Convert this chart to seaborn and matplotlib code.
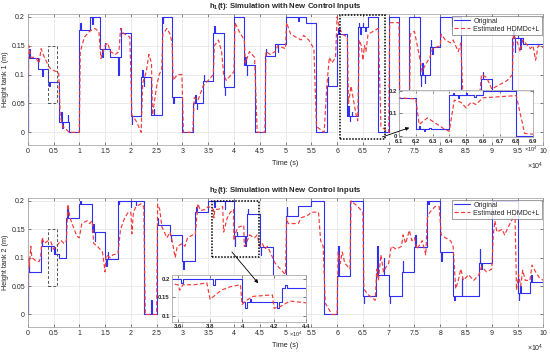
import numpy as np
import pandas as pd
import seaborn as sns
import matplotlib.pyplot as plt
from matplotlib.patches import Rectangle
from matplotlib.ticker import MultipleLocator, FuncFormatter

# time axis is in units of 1e4 s
T_END = 10.0

# tank 1: set-point levels (changes every 0.2e4 s)
h1_step_t = [0.0, 0.2, 0.4, 0.6, 0.8, 1.0, 1.2, 1.4, 1.6, 1.8,
             2.0, 2.2, 2.4, 2.6, 2.8, 3.0, 3.2, 3.4, 3.6, 3.8,
             4.0, 4.2, 4.4, 4.6, 4.8, 5.0, 5.2, 5.4, 5.6, 5.8,
             6.0, 6.2, 6.4, 6.6, 6.8, 7.0, 7.2, 7.4, 7.6, 7.8,
             8.0, 8.2, 8.4, 8.6, 8.8, 9.0, 9.2, 9.4, 9.6, 9.8]
h1_step_v = [0.128, 0.110, 0.087, 0.018, 0.000, 0.177, 0.200, 0.145, 0.131, 0.172,
             0.028, 0.095, 0.030, 0.200, 0.062, 0.000, 0.050, 0.089, 0.172, 0.078,
             0.200, 0.117, 0.000, 0.132, 0.153, 0.200, 0.200, 0.190, 0.000, 0.081,
             0.171, 0.028, 0.182, 0.200, 0.000, 0.200, 0.020, 0.200, 0.100, 0.148,
             0.200, 0.200, 0.030, 0.040, 0.092, 0.050, 0.050, 0.163, 0.153, 0.153]
# short transients of the original response (time, peak)
h1_spikes = [(0.0, 0.0), (0.03, 0.145), (0.28, 0.097), (0.42, 0.08), (0.65, 0.035),
             (0.67, 0.008), (0.78, 0.03), (1.02, 0.19), (1.25, 0.188), (1.45, 0.13),
             (1.5, 0.155), (1.76, 0.10), (1.81, 0.18), (2.02, 0.015), (2.22, 0.108),
             (2.25, 0.08), (2.45, 0.04), (2.62, 0.19), (2.82, 0.05), (3.25, 0.065),
             (3.28, 0.04), (3.42, 0.10), (3.62, 0.185), (3.82, 0.065), (4.22, 0.13),
             (4.25, 0.10), (4.62, 0.145), (4.85, 0.14), (5.25, 0.193), (5.82, 0.096),
             (6.02, 0.18), (6.22, 0.045), (6.25, 0.02), (6.28, 0.035), (6.42, 0.19),
             (6.45, 0.17), (6.5, 0.19), (6.55, 0.175), (7.62, 0.08), (7.65, 0.12),
             (7.7, 0.085), (7.82, 0.16), (7.85, 0.135), (8.22, 0.185), (8.82, 0.105),
             (9.42, 0.175), (9.45, 0.14), (9.5, 0.167), (9.55, 0.145)]
h1_estimated = [
    (0.0, 0.0), (0.02, 0.15), (0.06, 0.13), (0.15, 0.13), (0.22, 0.12), (0.26, 0.145),
    (0.3, 0.135), (0.35, 0.125), (0.4, 0.115), (0.45, 0.11), (0.5, 0.107), (0.6, 0.104),
    (0.63, 0.03), (0.68, 0.01), (0.75, 0.005), (0.8, 0.0), (1.0, 0.0), (1.02, 0.14),
    (1.1, 0.165), (1.2, 0.175), (1.3, 0.18), (1.38, 0.175), (1.42, 0.128), (1.5, 0.15),
    (1.55, 0.155), (1.6, 0.14), (1.7, 0.135), (1.77, 0.14), (1.8, 0.18), (1.85, 0.172),
    (1.98, 0.165), (2.02, 0.03), (2.1, 0.02), (2.2, 0.0), (2.23, 0.085), (2.3, 0.105),
    (2.35, 0.135), (2.4, 0.12), (2.42, 0.03), (2.5, 0.08), (2.55, 0.1), (2.6, 0.11),
    (2.62, 0.17), (2.7, 0.18), (2.76, 0.17), (2.8, 0.155), (2.82, 0.09), (2.9, 0.1),
    (2.99, 0.1), (3.02, 0.0), (3.2, 0.0), (3.23, 0.06), (3.3, 0.055), (3.4, 0.08),
    (3.5, 0.09), (3.6, 0.1), (3.62, 0.15), (3.7, 0.16), (3.76, 0.14), (3.8, 0.1),
    (3.85, 0.09), (4.0, 0.105), (4.02, 0.19), (4.1, 0.175), (4.2, 0.16), (4.22, 0.12),
    (4.3, 0.14), (4.4, 0.13), (4.45, 0.0), (4.6, 0.0), (4.62, 0.14), (4.7, 0.135),
    (4.8, 0.14), (4.85, 0.15), (5.0, 0.145), (5.02, 0.19), (5.1, 0.17), (5.2, 0.165),
    (5.3, 0.16), (5.35, 0.168), (5.45, 0.16), (5.55, 0.145), (5.6, 0.01), (5.75, 0.0),
    (5.8, 0.08), (5.85, 0.13), (5.9, 0.12), (5.97, 0.13), (6.0, 0.2), (6.05, 0.18),
    (6.1, 0.17), (6.2, 0.165), (6.22, 0.05), (6.27, 0.08), (6.3, 0.065), (6.33, 0.05),
    (6.37, 0.03), (6.4, 0.02), (6.43, 0.16), (6.47, 0.15), (6.5, 0.125), (6.53, 0.15),
    (6.56, 0.14), (6.6, 0.17), (6.7, 0.175), (6.8, 0.18), (6.85, 0.01), (7.0, 0.0),
    (7.02, 0.19), (7.2, 0.19), (7.22, 0.02), (7.4, 0.01), (7.42, 0.17), (7.5, 0.175),
    (7.6, 0.13), (7.65, 0.105), (7.7, 0.115), (7.8, 0.13), (7.85, 0.145), (8.0, 0.15),
    (8.02, 0.17), (8.1, 0.16), (8.2, 0.155), (8.25, 0.16), (8.35, 0.14), (8.4, 0.155),
    (8.45, 0.04), (8.6, 0.03), (8.75, 0.05), (8.8, 0.1), (8.9, 0.095), (9.0, 0.075),
    (9.1, 0.08), (9.2, 0.085), (9.3, 0.09), (9.4, 0.1), (9.42, 0.17), (9.5, 0.155),
    (9.55, 0.14), (9.6, 0.16), (9.7, 0.15), (9.75, 0.145), (9.8, 0.15), (9.85, 0.125),
    (9.9, 0.15), (10.0, 0.147)]

# tank 2: set-point levels (changes every 0.25e4 s)
h2_step_t = [0.0, 0.25, 0.5, 0.6, 0.75, 1.0, 1.25, 1.5, 1.75, 2.25,
             2.5, 2.75, 3.0, 3.25, 3.5, 4.0, 4.25, 4.5, 4.75, 5.0,
             5.25, 5.5, 5.75, 6.0, 6.25, 6.5, 6.75, 7.0, 7.25, 7.5,
             7.75, 8.0, 8.25, 8.75, 9.0, 9.5, 9.75]
h2_step_v = [0.075, 0.120, 0.107, 0.100, 0.170, 0.195, 0.145, 0.098, 0.200, 0.000,
             0.158, 0.140, 0.095, 0.180, 0.200, 0.138, 0.177, 0.118, 0.030, 0.174,
             0.191, 0.200, 0.000, 0.068, 0.200, 0.032, 0.070, 0.032, 0.075, 0.119,
             0.200, 0.110, 0.032, 0.090, 0.200, 0.038, 0.058]
h2_spikes = [(0.0, 0.0), (0.02, 0.09), (0.27, 0.135), (0.45, 0.112), (0.52, 0.118),
             (0.77, 0.19), (1.02, 0.2), (1.27, 0.16), (1.3, 0.13), (1.52, 0.085),
             (1.55, 0.11), (1.77, 0.195), (2.0, 0.19), (2.1, 0.193), (2.4, 0.025),
             (2.52, 0.17), (2.77, 0.13), (3.02, 0.08), (3.27, 0.19), (3.62, 0.19),
             (3.82, 0.185), (4.02, 0.12), (4.05, 0.145), (4.22, 0.12), (4.27, 0.185),
             (4.52, 0.105), (5.02, 0.19), (6.02, 0.12), (6.52, 0.02), (6.78, 0.12),
             (6.9, 0.1), (7.02, 0.02), (7.27, 0.095), (7.52, 0.14), (7.77, 0.195),
             (8.02, 0.095), (8.27, 0.025), (8.42, 0.065), (8.77, 0.115), (8.8, 0.08),
             (9.52, 0.025), (9.55, 0.05), (9.77, 0.07)]
h2_estimated = [
    (0.0, 0.0), (0.02, 0.1), (0.03, 0.085), (0.06, 0.12), (0.08, 0.1), (0.15, 0.095),
    (0.22, 0.093), (0.25, 0.1), (0.28, 0.135), (0.32, 0.125), (0.4, 0.13), (0.45, 0.128),
    (0.5, 0.115), (0.55, 0.12), (0.6, 0.125), (0.65, 0.13), (0.7, 0.125), (0.75, 0.13),
    (0.78, 0.194), (0.82, 0.17), (0.9, 0.15), (0.95, 0.138), (1.0, 0.135), (1.05, 0.16),
    (1.15, 0.165), (1.2, 0.16), (1.25, 0.165), (1.28, 0.125), (1.35, 0.12), (1.45, 0.11),
    (1.5, 0.075), (1.52, 0.105), (1.6, 0.1), (1.65, 0.105), (1.75, 0.107), (1.8, 0.15),
    (1.88, 0.17), (1.95, 0.18), (2.0, 0.18), (2.02, 0.142), (2.05, 0.18), (2.1, 0.19),
    (2.2, 0.195), (2.25, 0.19), (2.28, 0.0), (2.5, 0.0), (2.52, 0.194), (2.56, 0.185),
    (2.6, 0.155), (2.7, 0.135), (2.76, 0.145), (2.8, 0.13), (2.86, 0.1), (2.9, 0.12),
    (3.0, 0.125), (3.05, 0.12), (3.1, 0.135), (3.2, 0.14), (3.25, 0.14), (3.3, 0.195),
    (3.35, 0.183), (3.45, 0.185), (3.5, 0.19), (3.55, 0.188), (3.6, 0.185), (3.61, 0.17),
    (3.63, 0.185), (3.7, 0.185), (3.78, 0.19), (3.8, 0.145), (3.87, 0.17), (3.93, 0.18),
    (3.99, 0.185), (4.0, 0.13), (4.02, 0.14), (4.07, 0.153), (4.19, 0.157), (4.2, 0.12),
    (4.24, 0.125), (4.3, 0.14), (4.4, 0.135), (4.45, 0.14), (4.5, 0.12), (4.55, 0.125),
    (4.6, 0.115), (4.65, 0.12), (4.7, 0.11), (4.75, 0.1), (4.8, 0.09), (4.9, 0.08),
    (5.0, 0.07), (5.02, 0.17), (5.05, 0.16), (5.25, 0.16), (5.3, 0.17), (5.44, 0.175),
    (5.5, 0.18), (5.64, 0.18), (5.68, 0.13), (5.73, 0.12), (5.77, 0.02), (5.9, 0.0),
    (6.0, 0.0), (6.02, 0.11), (6.06, 0.09), (6.1, 0.11), (6.15, 0.09), (6.25, 0.08),
    (6.27, 0.2), (6.4, 0.19), (6.5, 0.18), (6.52, 0.045), (6.6, 0.035), (6.74, 0.025),
    (6.77, 0.08), (6.8, 0.06), (6.85, 0.105), (6.9, 0.075), (6.96, 0.085), (7.0, 0.09),
    (7.05, 0.12), (7.15, 0.115), (7.25, 0.12), (7.28, 0.14), (7.33, 0.125), (7.4, 0.148),
    (7.45, 0.13), (7.5, 0.135), (7.55, 0.115), (7.65, 0.13), (7.72, 0.105), (7.75, 0.17),
    (7.8, 0.18), (7.9, 0.19), (7.98, 0.19), (8.02, 0.14), (8.1, 0.135), (8.2, 0.13),
    (8.25, 0.12), (8.3, 0.045), (8.35, 0.06), (8.4, 0.08), (8.45, 0.06), (8.55, 0.07),
    (8.65, 0.06), (8.75, 0.07), (8.8, 0.084), (8.9, 0.075), (9.0, 0.08), (9.03, 0.14),
    (9.06, 0.165), (9.1, 0.145), (9.2, 0.15), (9.25, 0.14), (9.3, 0.15), (9.38, 0.165),
    (9.45, 0.177), (9.48, 0.043), (9.52, 0.07), (9.56, 0.05), (9.6, 0.078), (9.65, 0.06),
    (9.74, 0.06), (9.78, 0.087), (9.85, 0.075), (9.92, 0.065), (10.0, 0.06)]


def original_frame(step_t, step_v, spikes, width=0.008):
    t = list(step_t) + [T_END]
    v = list(step_v) + [step_v[-1]]
    for ts, vs in spikes:
        k = np.searchsorted(step_t, ts, side='right') - 1
        t += [ts, ts + width]
        v += [vs, step_v[k]]
    df = pd.DataFrame({'t': t, 'h': v})
    return df.sort_values('t', kind='mergesort').reset_index(drop=True)


def estimated_frame(pairs):
    return pd.DataFrame(pairs, columns=['t', 'h'])


sns.set_theme(style='whitegrid')
plt.rcParams['font.family'] = ['Liberation Sans', 'DejaVu Sans']
plt.rcParams['mathtext.fontset'] = 'custom'
plt.rcParams['mathtext.bf'] = 'Liberation Sans:bold'
plt.rcParams['mathtext.rm'] = 'Liberation Sans'

BLUE = '#3030f2'
RED = '#f23a3a'
GRID = '#e3e3e3'
SPINE = '#9a9a9a'

fig = plt.figure(figsize=(5.5, 3.53), dpi=100)
fig.patch.set_facecolor('white')


def style_axes(ax, fs=5, bold=False):
    ax.set_facecolor('white')
    ax.grid(True, color=GRID, lw=0.5)
    for s in ax.spines.values():
        s.set_color(SPINE)
        s.set_linewidth(0.5)
    ax.tick_params(direction='in', length=2, width=0.4, colors='#262626',
                   labelsize=fs, pad=2, top=True, right=True, bottom=True, left=True)
    ax.tick_params(axis='both', labeltop=False, labelright=False)
    if bold:
        for lab in ax.get_xticklabels() + ax.get_yticklabels():
            lab.set_fontweight('bold')
    fmt = FuncFormatter(lambda x, p: f'{x:g}')
    ax.xaxis.set_major_formatter(fmt)
    ax.yaxis.set_major_formatter(fmt)


def draw_lines(ax, orig, est, label=True):
    sns.lineplot(data=orig, x='t', y='h', ax=ax, color=BLUE, lw=0.8, sort=False,
                 estimator=None, drawstyle='steps-post',
                 label='Original' if label else None, legend=False)
    sns.lineplot(data=est, x='t', y='h', ax=ax, color=RED, lw=0.85, sort=False,
                 estimator=None, linestyle=(0, (3.5, 2)),
                 label='Estimated HDMDc+L' if label else None, legend=False)
    ax.set_xlabel('')
    ax.set_ylabel('')


panels = [
    dict(rect=[0.0504, 0.5892, 0.9375, 0.3711], orig=original_frame(h1_step_t, h1_step_v, h1_spikes),
         est=estimated_frame(h1_estimated), title='h$_\\mathbf{1}$(t): Simulation with New Control Inputs',
         ylabel='Height tank 1 (m)', ins_rect=[0.7255, 0.6119, 0.2436, 0.133],
         ins_x=(6.1, 6.9), ins_y=(-0.006, 0.205), ins_xt=[6.1, 6.2, 6.3, 6.4, 6.5, 6.6, 6.7, 6.8, 6.9],
         ins_yt=[0, 0.1, 0.2], ins_off=1.035, box=(6.06, -0.011, 0.87, 0.214),
         arrow=((6.88, -0.008), (7.4, 0.008))),
    dict(rect=[0.0504, 0.0737, 0.9375, 0.3654], orig=original_frame(h2_step_t, h2_step_v, h2_spikes),
         est=estimated_frame(h2_estimated), title='h$_\\mathbf{2}$(t): Simulation with New Control Inputs',
         ylabel='Height tank 2 (m)', ins_rect=[0.3122, 0.0887, 0.2442, 0.1323],
         ins_x=(3.56, 4.4), ins_y=(0.083, 0.212), ins_xt=[3.6, 3.8, 4.0, 4.2, 4.4],
         ins_yt=[0.1, 0.15, 0.2], ins_off=0.975, box=(3.58, 0.101, 0.91, 0.099),
         arrow=((3.96, 0.11), (4.47, 0.055))),
]

for p in panels:
    ax = fig.add_axes(p['rect'])
    draw_lines(ax, p['orig'], p['est'])
    ax.set_xlim(0, T_END)
    ax.set_ylim(-0.022, 0.205)
    ax.xaxis.set_major_locator(MultipleLocator(0.5))
    ax.yaxis.set_major_locator(MultipleLocator(0.05))
    style_axes(ax)
    ax.set_title(p['title'], fontsize=5.6, fontweight='bold', pad=4)
    ax.set_xlabel('Time (s)', fontsize=5.2, labelpad=4)
    ax.set_ylabel(p['ylabel'], fontsize=5.2, labelpad=2)
    ax.text(1.0, -0.12, '×10$^4$', transform=ax.transAxes, ha='right', va='top', fontsize=5)

    # dashed marker of the early interval
    ax.add_patch(Rectangle((0.4, 0.05), 0.16, 0.1, fill=False, ls=(0, (3, 2)),
                           ec='#555555', lw=0.7, zorder=5))
    bx, by, bw, bh = p['box']
    ax.add_patch(Rectangle((bx, by), bw, bh, fill=False, ls=(0, (1, 1)),
                           ec='black', lw=1.1, zorder=5))

    leg = ax.legend(loc='upper right', fontsize=5, frameon=True, fancybox=False,
                    borderaxespad=0.25, handlelength=2.2, borderpad=0.3,
                    labelspacing=0.15, handletextpad=0.5)
    leg.get_frame().set_edgecolor('#555555')
    leg.get_frame().set_linewidth(0.5)

    ins = fig.add_axes(p['ins_rect'])
    draw_lines(ins, p['orig'], p['est'], label=False)
    ins.set_xlim(*p['ins_x'])
    ins.set_ylim(*p['ins_y'])
    ins.set_xticks(p['ins_xt'])
    ins.set_yticks(p['ins_yt'])
    style_axes(ins, fs=4.3, bold=True)
    ins.tick_params(pad=1.5)
    ins.text(p['ins_off'], -0.17, '×10$^4$', transform=ins.transAxes, ha='right', va='top', fontsize=4)

    (x0, y0), (x1, y1) = p['arrow']
    ins.annotate('', xy=(x1, y1), xytext=(x0, y0), xycoords=ax.transData,
                 textcoords=ax.transData, annotation_clip=False,
                 arrowprops=dict(arrowstyle='-|>', color='black', lw=0.6,
                                 mutation_scale=5, shrinkA=0, shrinkB=0))

fig.savefig('out.png', dpi=100, facecolor='white')
